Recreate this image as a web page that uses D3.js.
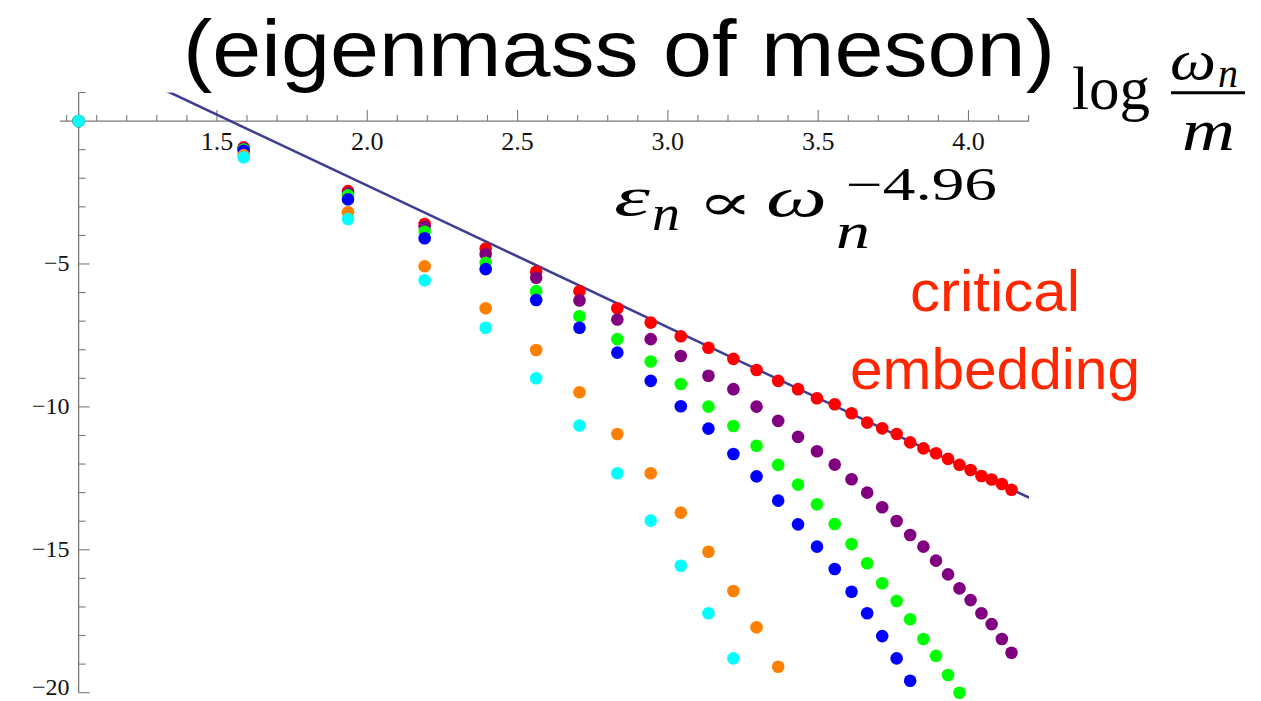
<!DOCTYPE html>
<html>
<head>
<meta charset="utf-8">
<script src="https://cdn.jsdelivr.net/npm/d3@7"></script>
<style>
  html, body { margin: 0; padding: 0; background: #fff; }
  svg { display: block; }
</style>
</head>
<body>
<svg id="chart" width="1261" height="701"></svg>
<script>
// log(omega_n / m) for mode number n = 0..30
const logOmega = [1.040, 1.589, 1.936, 2.191, 2.394, 2.562, 2.706, 2.832, 2.943, 3.043,
                  3.135, 3.218, 3.295, 3.367, 3.433, 3.496, 3.555, 3.611, 3.663, 3.713,
                  3.761, 3.806, 3.850, 3.892, 3.932, 3.970, 4.007, 4.043, 4.077, 4.111, 4.143];

// log(epsilon_n) for each embedding, listed from mode 0 upward
const critical = [0, -0.92, -2.45, -3.60, -4.46, -5.27, -5.95, -6.55, -7.05, -7.53,
                  -7.93, -8.32, -8.71, -9.09, -9.38, -9.70, -9.91, -10.22, -10.55, -10.75,
                  -10.95, -11.24, -11.45, -11.62, -11.82, -12.03, -12.21, -12.42, -12.54, -12.70, -12.90];
const purple   = [0, -0.96, -2.53, -3.70, -4.66, -5.48, -6.28, -6.94, -7.63, -8.22,
                  -8.91, -9.38, -9.99, -10.49, -11.05, -11.55, -12.02, -12.53, -13.00, -13.51,
                  -13.99, -14.48, -14.89, -15.38, -15.86, -16.35, -16.76, -17.22, -17.60, -18.12, -18.60];
const green    = [0, -1.00, -2.60, -3.87, -4.96, -5.95, -6.83, -7.63, -8.41, -9.20,
                  -9.99, -10.67, -11.36, -12.03, -12.72, -13.41, -14.10, -14.80, -15.47, -16.17,
                  -16.79, -17.43, -18.12, -18.71, -19.38, -20.00];
const blue     = [0, -1.04, -2.74, -4.10, -5.18, -6.26, -7.23, -8.10, -9.09, -9.98,
                  -10.76, -11.65, -12.43, -13.28, -14.11, -14.89, -15.67, -16.47, -17.22, -18.02,
                  -18.80, -19.58];
const orange   = [0, -1.19, -3.19, -5.08, -6.55, -8.01, -9.49, -10.95, -12.32, -13.70,
                  -15.07, -16.44, -17.71, -19.09];
const cyan     = [0, -1.27, -3.43, -5.57, -7.23, -9.00, -10.65, -12.32, -13.98, -15.56,
                  -17.22, -18.80];

const seriesNames  = ["critical", "purple", "green", "blue", "orange", "cyan"];
const seriesValues = [critical, purple, green, blue, orange, cyan];
const seriesColors = ["#ff0000", "#800080", "#00ff00", "#0000ff", "#ff8000", "#00ffff"];

// power-law fit: log eps = intercept + exponent * log omega
const fitExponent  = -4.96;
const fitIntercept = 7.665;

const xTicksMajor = [1.5, 2.0, 2.5, 3.0, 3.5, 4.0];
const yTicksMajor = [-5, -10, -15, -20];

const svg = d3.select("#chart");

const x = d3.scaleLinear().domain([0.978, 4.2016]).range([60, 1029.1]);
const y = d3.scaleLinear().domain([-20, 1]).range([692.7, 92.5]);
const originX = 1.04;

const axisColor = "#7a7a7a";

// ---- x axis (at y = 0) ----
const xMinor = d3.range(10, 43).map(d => d / 10).filter(v => !xTicksMajor.some(m => Math.abs(m - v) < 1e-6));
const gx = svg.append("g");
gx.append("line")
  .attr("x1", x.range()[0]).attr("x2", x.range()[1])
  .attr("y1", y(0)).attr("y2", y(0))
  .attr("stroke", axisColor).attr("stroke-width", 1.3);
gx.selectAll("line.minor").data(xMinor).join("line")
  .attr("class", "minor")
  .attr("x1", d => x(d)).attr("x2", d => x(d))
  .attr("y1", y(0)).attr("y2", y(0) - 6)
  .attr("stroke", axisColor).attr("stroke-width", 1.1);
gx.selectAll("line.major").data(xTicksMajor).join("line")
  .attr("class", "major")
  .attr("x1", d => x(d)).attr("x2", d => x(d))
  .attr("y1", y(0)).attr("y2", y(0) - 11)
  .attr("stroke", axisColor).attr("stroke-width", 1.1);
gx.selectAll("text").data(xTicksMajor).join("text")
  .attr("x", d => x(d)).attr("y", y(0) + 29)
  .attr("text-anchor", "middle")
  .attr("font-family", "'Liberation Serif', 'Times New Roman', serif")
  .attr("font-size", 26)
  .attr("fill", "#111")
  .text(d => d.toFixed(1));

// ---- y axis (at x = originX) ----
const yMinor = d3.range(-20, 2).filter(v => v !== 0 && !yTicksMajor.includes(v));
const gy = svg.append("g");
gy.append("line")
  .attr("x1", x(originX)).attr("x2", x(originX))
  .attr("y1", y.range()[0]).attr("y2", y.range()[1])
  .attr("stroke", axisColor).attr("stroke-width", 1.3);
gy.selectAll("line.minor").data(yMinor).join("line")
  .attr("class", "minor")
  .attr("x1", x(originX)).attr("x2", x(originX) + 7)
  .attr("y1", d => y(d)).attr("y2", d => y(d))
  .attr("stroke", axisColor).attr("stroke-width", 1.1);
gy.selectAll("line.major").data(yTicksMajor).join("line")
  .attr("class", "major")
  .attr("x1", x(originX)).attr("x2", x(originX) + 11)
  .attr("y1", d => y(d)).attr("y2", d => y(d))
  .attr("stroke", axisColor).attr("stroke-width", 1.1);
// labels centred on their ticks; the lowest one is nudged up to stay inside the frame
gy.selectAll("text").data(yTicksMajor).join("text")
  .attr("x", x(originX) - 9).attr("y", d => Math.min(y(d) + 7, 695))
  .attr("text-anchor", "end")
  .attr("font-family", "'Liberation Serif', 'Times New Roman', serif")
  .attr("font-size", 24)
  .attr("fill", "#111")
  .text(d => "\u2212" + Math.abs(d));

// ---- fitted power law ----
svg.append("clipPath").attr("id", "plotClip")
  .append("rect")
  .attr("x", x.range()[0]).attr("y", y.range()[1])
  .attr("width", x.range()[1] - x.range()[0])
  .attr("height", y.range()[0] - y.range()[1]);

const fitLine = d3.line().x(d => x(d)).y(d => y(fitIntercept + fitExponent * d));
svg.append("path")
  .attr("clip-path", "url(#plotClip)")
  .attr("d", fitLine(x.domain()))
  .attr("fill", "none")
  .attr("stroke", "#3d3d96")
  .attr("stroke-width", 2.6);

// ---- data points (later series drawn on top) ----
seriesValues.forEach((vals, i) => {
  svg.append("g")
    .attr("class", "series-" + seriesNames[i])
    .selectAll("circle").data(vals).join("circle")
    .attr("cx", (d, k) => x(logOmega[k]))
    .attr("cy", d => y(d))
    .attr("r", 6.3)
    .attr("fill", seriesColors[i]);
});

// ---- annotations ----
const serif = "'Liberation Serif', 'DejaVu Serif', 'Times New Roman', serif";

svg.append("text")
  .attr("x", 183).attr("y", 76)
  .attr("font-family", "'Liberation Sans', Arial, sans-serif")
  .attr("font-size", 80)
  .attr("textLength", 872).attr("lengthAdjust", "spacingAndGlyphs")
  .attr("fill", "#000")
  .text("(eigenmass of meson)");

// x-axis label: log(omega_n / m)
svg.append("text")
  .attr("x", 1072).attr("y", 109)
  .attr("font-family", serif).attr("font-size", 62)
  .attr("textLength", 78).attr("lengthAdjust", "spacingAndGlyphs")
  .text("log");
svg.append("text")
  .attr("x", 1170).attr("y", 79)
  .attr("font-family", serif).attr("font-style", "italic").attr("font-size", 58)
  .attr("textLength", 46).attr("lengthAdjust", "spacingAndGlyphs")
  .text("\u03c9");
svg.append("text")
  .attr("x", 1218).attr("y", 87)
  .attr("font-family", serif).attr("font-style", "italic").attr("font-size", 40)
  .text("n");
svg.append("line")
  .attr("x1", 1171).attr("x2", 1245).attr("y1", 92.7).attr("y2", 92.7)
  .attr("stroke", "#000").attr("stroke-width", 3);
svg.append("text")
  .attr("x", 1182).attr("y", 150)
  .attr("font-family", serif).attr("font-style", "italic").attr("font-size", 60)
  .attr("textLength", 53).attr("lengthAdjust", "spacingAndGlyphs")
  .text("m");

// scaling law label: eps_n ∝ omega_n^-4.96
svg.append("text")
  .attr("x", 614).attr("y", 215)
  .attr("font-family", serif).attr("font-style", "italic").attr("font-size", 54)
  .attr("textLength", 36).attr("lengthAdjust", "spacingAndGlyphs")
  .text("\u03b5");
svg.append("text")
  .attr("x", 652).attr("y", 230)
  .attr("font-family", serif).attr("font-style", "italic").attr("font-size", 50)
  .attr("textLength", 28).attr("lengthAdjust", "spacingAndGlyphs")
  .text("n");
svg.append("text")
  .attr("x", 697).attr("y", 220)
  .attr("font-family", "'DejaVu Serif', serif").attr("font-size", 52)
  .attr("textLength", 56).attr("lengthAdjust", "spacingAndGlyphs")
  .text("\u221d");
svg.append("text")
  .attr("x", 766).attr("y", 216)
  .attr("font-family", serif).attr("font-style", "italic").attr("font-size", 58)
  .attr("textLength", 61).attr("lengthAdjust", "spacingAndGlyphs")
  .text("\u03c9");
svg.append("text")
  .attr("x", 836).attr("y", 248)
  .attr("font-family", serif).attr("font-style", "italic").attr("font-size", 50)
  .attr("textLength", 34).attr("lengthAdjust", "spacingAndGlyphs")
  .text("n");
svg.append("text")
  .attr("x", 846).attr("y", 200)
  .attr("font-family", serif).attr("font-size", 46)
  .attr("textLength", 151).attr("lengthAdjust", "spacingAndGlyphs")
  .text("\u2212" + Math.abs(fitExponent).toFixed(2));

// highlighted curve name
const redLabel = svg.append("g")
  .attr("font-family", "'Liberation Sans', Arial, sans-serif")
  .attr("font-size", 57)
  .attr("fill", "#ff2600")
  .attr("text-anchor", "middle");
redLabel.append("text").attr("x", 995).attr("y", 311)
  .attr("textLength", 170).attr("lengthAdjust", "spacingAndGlyphs")
  .text("critical");
redLabel.append("text").attr("x", 995).attr("y", 389)
  .attr("textLength", 290).attr("lengthAdjust", "spacingAndGlyphs")
  .text("embedding");
</script>
</body>
</html>
